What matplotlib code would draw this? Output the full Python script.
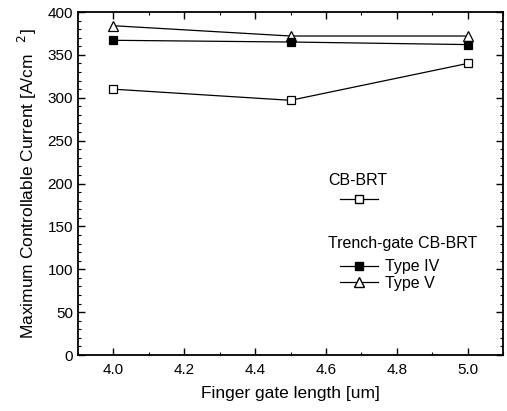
import matplotlib
matplotlib.use("Agg")
import matplotlib.pyplot as plt
from matplotlib.ticker import MultipleLocator
from matplotlib.lines import Line2D

plt.rcParams['font.family'] = ['Liberation Sans', 'DejaVu Sans']

gate_length = [4.0, 4.5, 5.0]
cb_brt = [310, 297, 340]
type_iv = [367, 365, 362]
type_v = [384, 372, 372]

fig = plt.figure(figsize=(5.07, 4.11), dpi=100)
ax = fig.add_axes([78/507, 1-355/411, 425/507, 343/411])

ax.plot(gate_length, type_v, '-', color='black', lw=0.9, marker='^', ms=6.5,
        mfc='white', mec='black', mew=0.9)
ax.plot(gate_length, type_iv, '-', color='black', lw=0.9, marker='s', ms=5.5,
        mfc='black', mec='black', mew=0.9)
ax.plot(gate_length, cb_brt, '-', color='black', lw=0.9, marker='s', ms=6,
        mfc='white', mec='black', mew=0.9)

ax.set_xlim(3.9, 5.1)
ax.set_ylim(0, 400)
ax.xaxis.set_major_locator(MultipleLocator(0.2))
ax.xaxis.set_minor_locator(MultipleLocator(0.1))
ax.yaxis.set_major_locator(MultipleLocator(50))
ax.yaxis.set_minor_locator(MultipleLocator(10))
ax.tick_params(which='both', direction='in', top=True, right=True, labelsize=11)
ax.tick_params(which='major', length=5, width=1)
ax.tick_params(which='minor', length=2.5, width=0.8)
ax.tick_params(axis='x', pad=6)
for s in ax.spines.values():
    s.set_linewidth(1.3)

ax.set_xlabel("Finger gate length [um]", fontsize=12.5, labelpad=6)
ax.set_ylabel(r"Maximum Controllable Current [A/cm$^{\ \ \ 2}$]", fontsize=12.5, labelpad=6)

fs = 11.5
ax.text(0.588, 0.51, "CB-BRT", transform=ax.transAxes, fontsize=fs, va='center', ha='left')
ax.text(0.588, 0.3265, "Trench-gate CB-BRT", transform=ax.transAxes, fontsize=fs,
        va='center', ha='left')

h_cb = Line2D([], [], color='black', lw=0.9, marker='s', ms=6, mfc='white', mec='black')
h_iv = Line2D([], [], color='black', lw=0.9, marker='s', ms=5.5, mfc='black', mec='black')
h_v = Line2D([], [], color='black', lw=0.9, marker='^', ms=6.5, mfc='white', mec='black')

leg1 = ax.legend([h_cb], [""], frameon=False, fontsize=fs, loc='center left',
                 bbox_to_anchor=(0.616, 0.452), handlelength=2.4, borderpad=0,
                 borderaxespad=0, handletextpad=0.3)
ax.add_artist(leg1)
leg2 = ax.legend([h_iv, h_v], ["Type IV", "Type V"], frameon=False, fontsize=fs,
                 loc='center left', bbox_to_anchor=(0.616, 0.233), handlelength=2.4,
                 borderpad=0, borderaxespad=0, handletextpad=0.4, labelspacing=0.12)

fig.savefig("out.png", dpi=100)
